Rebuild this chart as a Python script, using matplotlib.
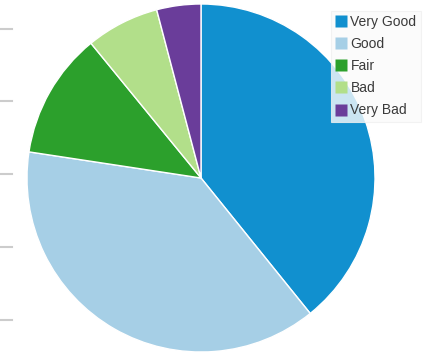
import matplotlib
matplotlib.use("Agg")
from matplotlib import pyplot as plt
from matplotlib.lines import Line2D

# 评价分布
labels = ["Very Good", "Good", "Fair", "Bad", "Very Bad"]
values = [39.2, 38.2, 11.7, 6.8, 4.1]
colors = ["#1190cf", "#a6cfe6", "#2ca02c", "#b2df8a", "#6a3d9a"]

plt.rcParams['font.family'] = ['Liberation Sans', 'DejaVu Sans']

W, H = 441, 354
fig = plt.figure(figsize=(W / 100, H / 100), dpi=100)

# 饼图区域 (像素定位)
cx, cy, r = 201, 178, 174
ax = fig.add_axes([(cx - r) / W, (H - cy - r) / H, 2 * r / W, 2 * r / H])
ax.pie(values, colors=colors, startangle=90, counterclock=False, radius=1,
       wedgeprops=dict(edgecolor="white", linewidth=1))
ax.set_xlim(-1, 1)
ax.set_ylim(-1, 1)
ax.set_aspect("equal")
ax.axis("off")

# 左侧残留的网格线
for y in [29, 101, 174, 247, 320]:
    fig.add_artist(Line2D([0, 12 / W], [1 - y / H, 1 - y / H],
                          color="#cccccc", linewidth=1.5))

# 图例
handles = [Line2D([], [], marker="s", linestyle="none", markersize=9,
                  markerfacecolor=c, markeredgecolor="none") for c in colors]
leg = fig.legend(handles, labels, loc="upper left",
                 bbox_to_anchor=(331 / W, 1 - 11 / H),
                 fontsize=10, frameon=True, fancybox=False,
                 handlelength=0.9, handletextpad=0.2, labelspacing=0.58,
                 borderpad=0.3, borderaxespad=0)
leg.get_frame().set_facecolor("#fbfbfb")
leg.get_frame().set_edgecolor("#f0f0f0")
leg.get_frame().set_linewidth(0.8)
for t in leg.get_texts():
    t.set_color("#3a3a3a")

plt.savefig("out.png", dpi=100)
